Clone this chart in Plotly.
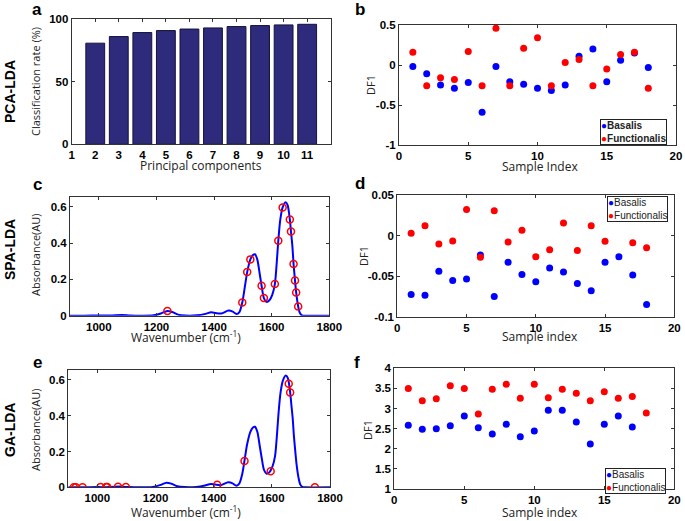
import plotly.graph_objects as go

W, H = 685, 521

# ---------------- data ----------------
# (a) PCA-LDA classification rate
principal_components = [2, 3, 4, 5, 6, 7, 8, 9, 10, 11]
classification_rate = [80.9, 86.2, 89.4, 91.0, 92.2, 93.1, 94.2, 95.0, 95.5, 96.0]

sample_index = list(range(1, 19))

# (b) PCA-LDA DF1
pca_basalis = [-0.02, -0.11, -0.25, -0.29, -0.22, -0.59, -0.02, -0.21, -0.24, -0.29,
               -0.32, -0.25, 0.11, 0.20, -0.21, 0.06, 0.15, -0.03]
pca_functionalis = [0.16, -0.26, -0.16, -0.18, 0.17, -0.26, 0.46, -0.26, 0.21, 0.34,
                    -0.26, 0.03, 0.07, -0.26, -0.05, 0.13, 0.16, -0.29]

# (d) SPA-LDA DF1
spa_basalis = [-0.0727, -0.0735, -0.044, -0.0555, -0.0535, -0.024, -0.075, -0.033, -0.048,
               -0.057, -0.040, -0.045, -0.059, -0.068, -0.033, -0.026, -0.0485, -0.085]
spa_functionalis = [0.003, 0.012, -0.0105, -0.0068, 0.032, -0.0266, 0.0305, -0.008, 0.0065,
                    -0.026, -0.0175, 0.0156, -0.0184, 0.012, -0.007, None, -0.009, -0.015]

# (f) GA-LDA DF1
ga_basalis = [2.583, 2.483, 2.50, 2.575, 2.815, 2.525, 2.367, 2.608, 2.30, 2.442,
              2.956, 2.956, 2.666, 2.119, 2.608, 2.815, 2.541, None]
ga_functionalis = [3.495, 3.196, 3.246, 3.569, 3.495, 2.865, 3.478, 3.602, 3.254, 3.602,
                   3.27, 3.478, 3.379, 3.196, 3.42, 3.254, 3.296, 2.89]

# mean spectrum (c, e)
wavenumber = [900, 950, 1000, 1040, 1080, 1110, 1150, 1190, 1215, 1238, 1255, 1275, 1300,
              1340, 1370, 1390, 1405, 1425, 1450, 1465, 1478, 1488, 1498, 1507, 1515, 1526,
              1535, 1542, 1550, 1558, 1565, 1573, 1582, 1592, 1602, 1611, 1617, 1623, 1630,
              1638, 1648, 1655, 1663, 1667, 1672, 1676, 1681, 1685, 1692, 1698, 1705, 1715,
              1800]
absorbance = [0, 0, 0.001, 0.001, 0.004, 0.001, 0, 0.002, 0.012, 0.026, 0.02, 0.006, 0.001,
              0.002, 0.01, 0.019, 0.015, 0.012, 0.028, 0.022, 0.009, 0.02, 0.073, 0.16, 0.24,
              0.31, 0.334, 0.338, 0.31, 0.235, 0.165, 0.097, 0.076, 0.085, 0.115, 0.174, 0.28,
              0.413, 0.53, 0.596, 0.624, 0.61, 0.53, 0.463, 0.38, 0.284, 0.194, 0.128, 0.051,
              0.015, 0.002, 0, 0]

# SPA selected variables (c)
spa_wn = [1238, 1498, 1515, 1526, 1565, 1573, 1611, 1623, 1638, 1663, 1667, 1676, 1681, 1685, 1692]
spa_abs = [0.026, 0.073, 0.24, 0.31, 0.165, 0.097, 0.174, 0.413, 0.596, 0.53, 0.463, 0.284,
           0.194, 0.128, 0.051]

# GA selected variables (e)
ga_wn = [919, 926, 949, 1011, 1030, 1034, 1071, 1098, 1412, 1506, 1596, 1658, 1663, 1748]
ga_abs = [0, 0, 0, 0.001, 0.001, 0.001, 0.003, 0.002, 0.014, 0.147, 0.09, 0.578, 0.53, 0]

BLUE = "#0000ff"
RED = "#ff0000"
BAR = "#2e2a7c"

# ---------------- layout helpers ----------------
def xdom(l, r):
    return [l / W, r / W]

def ydom(t, b):
    return [1 - b / H, 1 - t / H]

tick_font = dict(family="Liberation Sans, Arial", size=11.5, color="black", weight="bold")
base_axis = dict(showline=True, linecolor="#333333", linewidth=1, mirror="ticks",
                 ticks="inside", ticklen=3, tickcolor="#333333", tickfont=tick_font,
                 showgrid=False, zeroline=False, automargin=False)

fig = go.Figure()

# (a)
fig.add_trace(go.Bar(x=principal_components, y=classification_rate, width=0.8,
                     marker=dict(color=BAR, line=dict(color="#15133a", width=1)),
                     xaxis="x", yaxis="y", showlegend=False))

# (b)
fig.add_trace(go.Scatter(x=sample_index, y=pca_basalis, mode="markers",
                         marker=dict(color=BLUE, size=7), xaxis="x2", yaxis="y2", showlegend=False))
fig.add_trace(go.Scatter(x=sample_index, y=pca_functionalis, mode="markers",
                         marker=dict(color=RED, size=7), xaxis="x2", yaxis="y2", showlegend=False))

# (c)
fig.add_trace(go.Scatter(x=wavenumber, y=absorbance, mode="lines",
                         line=dict(color=BLUE, width=2, shape="spline", smoothing=0.8),
                         xaxis="x3", yaxis="y3", showlegend=False))
fig.add_trace(go.Scatter(x=spa_wn, y=spa_abs, mode="markers",
                         marker=dict(symbol="circle-open", color=RED, size=7, line=dict(width=1.5)),
                         xaxis="x3", yaxis="y3", showlegend=False))

# (d)
fig.add_trace(go.Scatter(x=sample_index, y=spa_basalis, mode="markers",
                         marker=dict(color=BLUE, size=7), xaxis="x4", yaxis="y4", showlegend=False))
fig.add_trace(go.Scatter(x=sample_index, y=spa_functionalis, mode="markers",
                         marker=dict(color=RED, size=7), xaxis="x4", yaxis="y4", showlegend=False))

# (e)
fig.add_trace(go.Scatter(x=wavenumber, y=absorbance, mode="lines",
                         line=dict(color=BLUE, width=2, shape="spline", smoothing=0.8),
                         xaxis="x5", yaxis="y5", showlegend=False))
fig.add_trace(go.Scatter(x=ga_wn, y=ga_abs, mode="markers",
                         marker=dict(symbol="circle-open", color=RED, size=7, line=dict(width=1.5)),
                         xaxis="x5", yaxis="y5", showlegend=False))

# (f)
fig.add_trace(go.Scatter(x=sample_index, y=ga_basalis, mode="markers",
                         marker=dict(color=BLUE, size=7), xaxis="x6", yaxis="y6", showlegend=False))
fig.add_trace(go.Scatter(x=sample_index, y=ga_functionalis, mode="markers",
                         marker=dict(color=RED, size=7), xaxis="x6", yaxis="y6", showlegend=False))

spec_x = dict(range=[900, 1800], tickvals=[1000, 1200, 1400, 1600, 1800])
spec_y = dict(range=[0, 0.655], tickvals=[0, 0.2, 0.4, 0.6], ticktext=["0", "0.2", "0.4", "0.6"])
idx_x = dict(range=[0, 20], tickvals=[0, 5, 10, 15, 20])

fig.update_layout(
    width=W, height=H, margin=dict(l=0, r=0, t=0, b=0, pad=0, autoexpand=False),
    paper_bgcolor="white", plot_bgcolor="white", bargap=0.2,
    xaxis=dict(base_axis, domain=xdom(71.7, 330.7), anchor="y", range=[1, 12],
               tickvals=list(range(1, 12))),
    yaxis=dict(base_axis, domain=ydom(19.3, 144.3), anchor="x", range=[0, 100],
               tickvals=[0, 50, 100]),
    xaxis2=dict(base_axis, domain=xdom(399, 676), anchor="y2", **idx_x),
    yaxis2=dict(base_axis, domain=ydom(25, 145), anchor="x2", range=[-1, 0.5],
                tickvals=[-1, -0.5, 0, 0.5], ticktext=["-1", "-0.5", "0", "0.5"]),
    xaxis3=dict(base_axis, domain=xdom(70, 329.3), anchor="y3", **spec_x),
    yaxis3=dict(base_axis, domain=ydom(196.7, 315.7), anchor="x3", **spec_y),
    xaxis4=dict(base_axis, domain=xdom(397.3, 674.3), anchor="y4", **idx_x),
    yaxis4=dict(base_axis, domain=ydom(195, 316.7), anchor="x4", range=[-0.1, 0.05],
                tickvals=[-0.1, -0.05, 0, 0.05], ticktext=["-0.1", "-0.05", "0", "0.05"]),
    xaxis5=dict(base_axis, domain=xdom(68.3, 330), anchor="y5", **spec_x),
    yaxis5=dict(base_axis, domain=ydom(370, 487.3), anchor="x5", **spec_y),
    xaxis6=dict(base_axis, domain=xdom(394.3, 674.3), anchor="y6", **idx_x),
    yaxis6=dict(base_axis, domain=ydom(368.3, 489), anchor="x6", range=[1, 4],
                tickvals=[1, 1.5, 2, 2.5, 3, 3.5, 4],
                ticktext=["1", "1.5", "2", "2.5", "3", "3.5", "4"]),
)

ann = []

def text_at(txt, px, py, size=12, family="Open Sans", angle=0, bold=False, color="#222222"):
    ann.append(dict(text=txt, x=px / W, y=1 - py / H, xref="paper", yref="paper",
                    xanchor="center", yanchor="middle", showarrow=False, textangle=angle,
                    font=dict(family=family, size=size, color=color,
                              weight="bold" if bold else "normal")))

# panel letters
for letter, px, py in [("a", 37, 10), ("b", 360, 9), ("c", 37, 184),
                       ("d", 360, 183), ("e", 37, 362), ("f", 357, 362)]:
    text_at(letter, px, py, size=17, family="Liberation Sans, Arial", bold=True, color="black")

# row labels
for lab, py in [("PCA-LDA", 92), ("SPA-LDA", 250), ("GA-LDA", 430)]:
    text_at(lab, 10, py, size=14, family="Liberation Sans, Arial", angle=-90, bold=True, color="black")

# axis titles
text_at("Classification rate (%)", 35, 82, size=11, angle=-90)
text_at("Principal components", 201, 165.5, size=12)
text_at("DF1", 371, 85, size=11, angle=-90)
text_at("Sample Index", 540, 166.5, size=12)
text_at("Absorbance(AU)", 35, 255, size=11, angle=-90)
text_at("Wavenumber (cm<sup>-1</sup>)", 186, 336.5, size=12)
text_at("DF1", 363, 256, size=11, angle=-90)
text_at("Sample index", 540, 336, size=12)
text_at("Absorbance(AU)", 35, 430, size=11, angle=-90)
text_at("Wavenumber (cm<sup>-1</sup>)", 186, 512, size=12)
text_at("DF1", 367, 430, size=11, angle=-90)
text_at("Sample index", 540, 512, size=12)

# legends (text boxes)
def legend_box(px, py, bold):
    ann.append(dict(
        text=(f"<span style='color:{BLUE}'>●</span>Basalis<br>"
              f"<span style='color:{RED}'>●</span>Functionalis"),
        x=px / W, y=1 - py / H, xref="paper", yref="paper", xanchor="left", yanchor="top",
        showarrow=False, align="left", bgcolor="white", bordercolor="#222222", borderwidth=1,
        borderpad=0,
        font=dict(family="Liberation Sans, Arial", size=10, color="#222222",
                  weight="bold" if bold else "normal")))

legend_box(600, 119, True)
legend_box(607, 196, False)
legend_box(605, 468, False)

fig.update_layout(annotations=ann)
fig.write_html("out.html", config={"displayModeBar": False},
               post_script="document.body.style.margin='0';document.body.style.overflow='hidden';")
